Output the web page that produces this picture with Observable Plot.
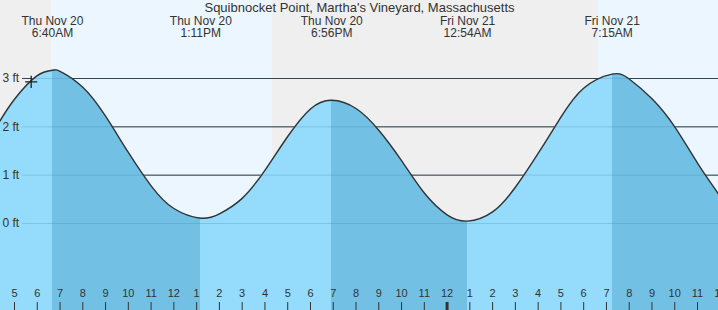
<!DOCTYPE html>
<html><head><meta charset="utf-8">
<script src="https://cdn.jsdelivr.net/npm/d3@7"></script>
<script src="https://cdn.jsdelivr.net/npm/@observablehq/plot@0.6"></script>
<style>
html,body{margin:0;padding:0;background:#fff;overflow:hidden;}
#chart svg{display:block;}
</style>
</head><body><div id="chart"></div>
<script>
// ---- data ----
const title = "Squibnocket Point, Martha's Vineyard, Massachusetts";

const tideTimes = [
  "2025-11-20T04:20","2025-11-20T05:00","2025-11-20T06:00","2025-11-20T06:40","2025-11-20T07:00",
  "2025-11-20T08:00","2025-11-20T09:00","2025-11-20T10:00","2025-11-20T11:00","2025-11-20T12:00",
  "2025-11-20T13:11","2025-11-20T14:00","2025-11-20T15:00","2025-11-20T16:00",
  "2025-11-20T17:00","2025-11-20T18:00","2025-11-20T18:56","2025-11-20T20:00",
  "2025-11-20T21:00","2025-11-20T22:00","2025-11-20T23:00","2025-11-21T00:00","2025-11-21T00:54",
  "2025-11-21T02:00","2025-11-21T03:00","2025-11-21T04:00","2025-11-21T05:00",
  "2025-11-21T06:00","2025-11-21T07:15","2025-11-21T08:00","2025-11-21T09:00",
  "2025-11-21T10:00","2025-11-21T11:00","2025-11-21T12:00"
];
const tideFeet = [
  2.10, 2.57, 3.06, 3.17, 3.15,
  2.82, 2.22, 1.47, 0.78, 0.31,
  0.11, 0.20, 0.52, 1.10,
  1.80, 2.37, 2.55, 2.38,
  1.93, 1.30, 0.63, 0.18, 0.05,
  0.24, 0.75, 1.45, 2.20,
  2.80, 3.09, 2.99, 2.58,
  2.00, 1.25, 0.56
];

const extremeTimes  = ["2025-11-20T06:40","2025-11-20T13:11","2025-11-20T18:56","2025-11-21T00:54","2025-11-21T07:15"];
const extremeKinds  = ["high","low","high","low","high"];
const extremeLabels = ["Thu Nov 20\n6:40AM","Thu Nov 20\n1:11PM","Thu Nov 20\n6:56PM","Fri Nov 21\n12:54AM","Fri Nov 21\n7:15AM"];

const skyBounds = ["2025-11-20T04:23:06","2025-11-20T06:38","2025-11-20T16:19","2025-11-21T06:39","2025-11-21T11:55:19"];
const skyKinds  = ["night","day","night","day"];

const nowTime = "2025-11-20T05:44";
const nowFeet = 2.93;

const ftTicks = [0, 1, 2, 3];
const xDomainStrings = ["2025-11-20T04:23:06", "2025-11-21T11:55:19"];
const yDomain = [-1.8, 4.614];

// ---- build ----
const width = 718, height = 310;
const T = s => new Date(s + "Z");
const tide = tideTimes.map((s, i) => ({time: T(s), ft: tideFeet[i]}));
const extremes = extremeTimes.map((s, i) => ({time: T(s), kind: extremeKinds[i], label: extremeLabels[i]}));
const sky = skyKinds.map((k, i) => ({x1: T(skyBounds[i]), x2: T(skyBounds[i + 1]), kind: k}));
const xDomain = xDomainStrings.map(T);
const hourTicks = d3.utcHour.range(d3.utcHour.ceil(xDomain[0]), d3.utcHour.offset(xDomain[1], 1));

const nightColor = "#efefef", dayColor = "#ebf6ff";
const risingColor = "#95dbfb", fallingColor = "#72c1e5";
const ink = "#333";

const gradientDefs = (index, scales) => {
  const ns = "http://www.w3.org/2000/svg";
  const defs = document.createElementNS(ns, "defs");
  const g = document.createElementNS(ns, "linearGradient");
  g.setAttribute("id", "water");
  g.setAttribute("gradientUnits", "userSpaceOnUse");
  g.setAttribute("x1", 0); g.setAttribute("x2", width);
  g.setAttribute("y1", 0); g.setAttribute("y2", 0);
  const bounds = [xDomain[0], ...extremes.map(e => e.time), xDomain[1]];
  for (let i = 0; i < bounds.length - 1; i++) {
    const falling = i === 0 ? extremes[0].kind === "low" : extremes[i - 1].kind === "high";
    const c = falling ? fallingColor : risingColor;
    for (const b of [bounds[i], bounds[i + 1]]) {
      const st = document.createElementNS(ns, "stop");
      const off = Math.max(0, Math.min(1, scales.x(b) / width));
      st.setAttribute("offset", off);
      st.setAttribute("stop-color", c);
      g.appendChild(st);
    }
  }
  defs.appendChild(g);
  return defs;
};

const plot = Plot.plot({
  width, height, margin: 0,
  x: {type: "utc", domain: xDomain, axis: null},
  y: {domain: yDomain, axis: null},
  style: {background: "transparent", fontFamily: "'Liberation Sans', Arial, sans-serif", fontSize: "12px", color: ink},
  marks: [
    gradientDefs,
    Plot.rect(sky, {x1: "x1", x2: "x2", fill: d => d.kind === "day" ? dayColor : nightColor}),
    Plot.ruleY(ftTicks, {y: d => d, insetLeft: 22, stroke: ink, strokeWidth: 1}),
    Plot.areaY(tide, {x: "time", y1: yDomain[0], y2: "ft", curve: "natural", fill: "url(#water)"}),
    Plot.ruleY(ftTicks, {y: d => d, insetLeft: 22, stroke: "#2a7fb0", strokeOpacity: 0.25, strokeWidth: 1}),
    Plot.line(tide, {x: "time", y: "ft", curve: "natural", stroke: ink, strokeWidth: 1.4}),
    Plot.dot([{time: T(nowTime), ft: nowFeet}], {x: "time", y: "ft", symbol: "plus", r: 4, stroke: "#222", strokeWidth: 1.3}),
    Plot.text(ftTicks, {y: d => d, text: d => `${d} ft`, frameAnchor: "left", textAnchor: "start", dx: 2, fontSize: 12, fill: ink}),
    Plot.ruleX(hourTicks, {x: d => d, insetTop: height - 8, stroke: ink, strokeWidth: d => d.getUTCHours() === 0 ? 3 : 1}),
    Plot.text(hourTicks, {x: d => d, text: d => String(d.getUTCHours() % 12 || 12), frameAnchor: "bottom", dy: -14, fontSize: 11, fill: ink}),
    Plot.text(extremes, {x: "time", text: "label", frameAnchor: "top", lineAnchor: "top", dy: 15.5, fontSize: 12, fill: ink}),
    Plot.text([title], {text: d => d, frameAnchor: "top", lineAnchor: "top", dy: 2.3, fontSize: 13, fill: ink})
  ]
});
document.getElementById("chart").appendChild(plot);
</script>
</body></html>
